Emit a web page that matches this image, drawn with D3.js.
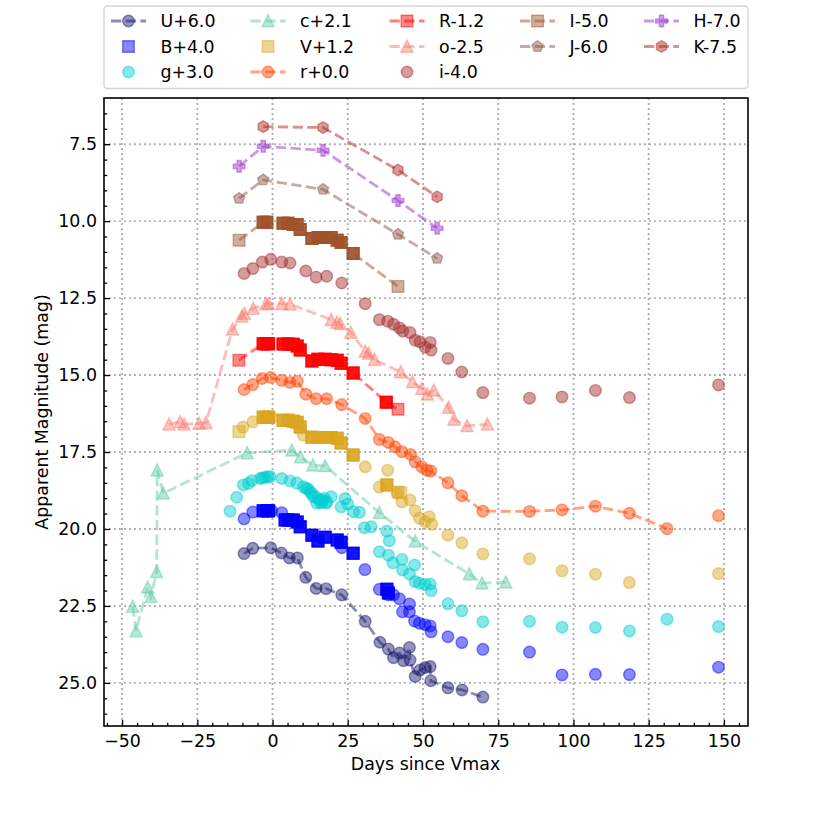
<!DOCTYPE html>
<html>
<head>
<meta charset="utf-8">
<script src="https://cdn.jsdelivr.net/npm/d3@7"></script>
<style>
  html, body { margin: 0; background: #fff; }
  text { font-family: "DejaVu Sans", sans-serif; fill: #000; }
</style>
</head>
<body>
<div id="chart"></div>
<script>
// [day, mag] pairs
const uMain = [[-9.46,20.8],[-6.56,20.63],[-0.58,20.61],[2.94,20.78],[5.6,20.94],[8.26,20.94],[11.05,21.57],[14.5,21.93],[17.8,21.94],[23,22.14],[30.8,23],[35.7,23.68],[38.5,23.9],[40.2,24.18],[42.2,24.03],[43.5,24.28],[45.5,23.85],[45.7,24.26],[47.4,24.79],[49,24.58],[50.7,24.5],[52.4,24.47],[52.6,24.93],[58.3,25.16],[63,25.23],[69.9,25.46]];
const bSquares = [[-3.1,19.41],[-1.9,19.41],[-1.3,19.41],[4.2,19.71],[5.2,19.71],[6.9,19.71],[8.2,19.77],[9.2,19.93],[13.1,20.2],[15.1,20.39],[17.5,20.27],[21.5,20.36],[22.8,20.43],[26.8,20.79],[38,21.96],[38.5,22.08]];
const bCircles = [[-9.46,19.67],[-6.56,19.45],[-0.25,19.41],[3.07,19.47],[23,20.61],[30.7,21.32],[35.5,21.96],[38.5,22.14],[40.2,22.14],[42.2,22.27],[43.2,22.69],[45.5,22.44],[45.5,22.69],[47.2,22.99],[48.8,23.06],[50.7,23.11],[52.4,23.15],[52.7,23.34],[58.3,23.5],[62.9,23.69],[69.9,23.91],[85.4,24],[96.2,24.74],[107.3,24.72],[118.6,24.73],[148.2,24.49]];
const gCircles = [[-14.1,19.42],[-11.9,18.97],[-9.7,18.57],[-8,18.52],[-6.9,18.43],[-4.1,18.36],[-3.3,18.34],[-2.5,18.32],[-1.5,18.3],[-0.8,18.3],[3.07,18.36],[5.8,18.44],[8.1,18.51],[10.3,18.63],[11.2,18.68],[11.8,18.7],[12.5,18.8],[13.1,18.85],[13.6,18.96],[14.3,18.95],[14.7,19.16],[15.7,19.05],[15.9,19.15],[16.4,19.12],[16.8,19.06],[17.2,19],[17.9,19.16],[18,19.12],[19.5,18.95],[22.8,19.28],[24.1,19.01],[25,19.19],[26.9,19.44],[28.9,19.46],[30.5,19.96],[32.8,19.93],[38,20.07],[38.8,20.38],[35.5,20.74],[38.5,20.85],[40,21.1],[43,20.99],[47.2,21.17],[43.2,21.33],[45.5,21.46],[47.4,21.71],[48.8,21.76],[50.7,21.8],[52.4,21.79],[52.7,22],[58.3,22.43],[62.9,22.66],[69.9,23.01],[85.4,23],[96.2,23.19],[107.3,23.2],[118.6,23.31],[131.1,22.93],[148.2,23.17]];
const cMain = [[-46.45,22.52],[-45.35,23.31],[-41.5,21.89],[-40.4,22.2],[-38.5,21.39],[-38.3,18.09],[-36.3,18.84],[-8.4,17.53],[6.4,17.44],[9.3,17.66],[13.4,17.93],[17.5,17.95],[35.5,19.47],[47.4,20.4],[65.4,21.46],[69.6,21.76],[77.5,21.73]];
const vSquares = [[-11.2,16.84],[-3.1,16.37],[-1.9,16.37],[-1.3,16.37],[3.5,16.47],[5.2,16.47],[6.9,16.5],[8.2,16.53],[9.2,16.69],[13.1,17.02],[15.1,17.03],[17.5,17.03],[19.5,17.03],[21.5,17.05],[22.8,17.21],[26.8,17.6],[38,18.57],[41.7,18.8],[42.6,18.82]];
const vCircles = [[-9.8,16.69],[-6.5,16.52],[-0.25,16.37],[10.2,16.95],[30.8,17.98],[38.3,18.09],[35.5,18.64],[41.4,18.84],[43,19.12],[45.7,19.06],[47.4,19.41],[48.8,19.65],[50.7,19.76],[52.1,19.6],[52.9,19.85],[58.3,20.2],[62.9,20.45],[69.9,20.81],[85.4,20.97],[96.2,21.36],[107.3,21.47],[118.6,21.74],[148.2,21.45]];
const rMain = [[-9.46,15.47],[-6.56,15.31],[-3.4,15.11],[-0.6,15.08],[3.07,15.17],[5.8,15.24],[8.2,15.2],[11.05,15.62],[14.5,15.77],[18,15.77],[23,15.96],[30.8,16.41],[35.5,17.09],[38.5,17.19],[40.7,17.33],[43,17.49],[45.9,17.58],[47.4,17.82],[49.6,17.98],[51.3,18.09],[52.6,18.12],[58.3,18.5],[62.9,18.92],[69.9,19.42],[85.4,19.43],[96.2,19.38],[107.3,19.26],[118.6,19.49],[131.1,19.99]];
const rLate = [[148.2,19.57]];
const bigRMain = [[-11.2,14.52],[-3.1,13.98],[-1.9,13.98],[-1.3,13.98],[3.5,13.99],[5.2,13.99],[6.9,14],[8.2,14.06],[9.2,14.19],[13.1,14.54],[15.1,14.49],[17.5,14.49],[19.5,14.5],[21.5,14.52],[22.8,14.62],[26.8,14.93],[37.8,15.88],[41.7,16.11]];
const oMain = [[-34.4,16.6],[-30.7,16.52],[-29.4,16.6],[-24.4,16.57],[-22.1,16.55],[-13.3,13.51],[-10.2,13.09],[-9.4,13],[-6.4,12.84],[-2.2,12.68],[-1.4,12.68],[3.07,12.68],[5.8,12.7],[19.5,13.2],[21.4,13.29],[22.5,13.33],[26,13.62],[30.8,14.23],[31.9,14.3],[33.9,14.5],[42.6,14.9],[46.5,15.22],[49.6,15.44],[51.5,15.62],[53.6,15.49],[58.5,16.05],[60.3,16.44],[64.6,16.65],[71.4,16.6]];
const iCircles = [[-9.46,11.7],[-6.56,11.54],[-3.4,11.33],[-0.6,11.24],[3.07,11.33],[5.8,11.36],[11.05,11.62],[14.5,11.82],[18,11.79],[23,12.01],[30.8,12.68],[35.5,13.2],[38.3,13.25],[40.2,13.35],[42.2,13.47],[43.3,13.57],[45.7,13.62],[47.4,13.87],[49,13.92],[50.7,14.09],[52.4,13.94],[52.7,14.19],[58.3,14.46],[62.9,14.9],[69.9,15.57],[85.4,15.75],[96.2,15.71],[107.3,15.5],[118.6,15.73],[148.2,15.32]];
const bigIMain = [[-11.1,10.62],[-3.1,10.04],[-1.9,10.04],[3.5,10.07],[5.2,10.07],[6.9,10.11],[8.2,10.11],[9.2,10.27],[13.1,10.56],[15.1,10.53],[17.5,10.53],[19.5,10.53],[21.5,10.62],[22.8,10.69],[26.8,11.05],[41.7,12.12]];
const jMain = [[-11.1,9.26],[-3.1,8.66],[16.8,8.97],[41.7,10.43],[54.7,11.21]];
const hMain = [[-11.1,8.22],[-3.1,7.57],[16.8,7.7],[41.7,9.33],[54.7,10.23]];
const kMain = [[-3.1,6.93],[16.8,6.96],[41.7,8.34],[54.7,9.21]];

const xTicks = [-50, -25, 0, 25, 50, 75, 100, 125, 150];
const yTicks = [7.5, 10, 12.5, 15, 17.5, 20, 22.5, 25];
const xDomain = [-56, 158];
const yDomain = [6, 26.4];

// legend order, column by column
const bands = [
  { label: 'U+6.0', color: '#191970', sets: [{ pts: uMain, sym: 'circle', line: true }], legend: 'circle', legendLine: true },
  { label: 'B+4.0', color: '#0000ff', sets: [{ pts: bCircles, sym: 'circle' }, { pts: bSquares, sym: 'square', stacked: true }], legend: 'square' },
  { label: 'g+3.0', color: '#00ced1', sets: [{ pts: gCircles, sym: 'circle' }], legend: 'circle' },
  { label: 'c+2.1', color: '#66cdaa', sets: [{ pts: cMain, sym: 'triangle', line: true }], legend: 'triangle', legendLine: true },
  { label: 'V+1.2', color: '#daa520', sets: [{ pts: vCircles, sym: 'circle' }, { pts: vSquares, sym: 'square', stacked: true }], legend: 'square' },
  { label: 'r+0.0', color: '#ff4500', sets: [{ pts: rMain, sym: 'circle', line: true }, { pts: rLate, sym: 'circle' }], legend: 'circle', legendLine: true },
  { label: 'R-1.2', color: '#ff0000', sets: [{ pts: bigRMain, sym: 'square', line: true, stacked: true }], legend: 'square', legendLine: true },
  { label: 'o-2.5', color: '#fa8072', sets: [{ pts: oMain, sym: 'triangle', line: true }], legend: 'triangle', legendLine: true },
  { label: 'i-4.0', color: '#a52a2a', sets: [{ pts: iCircles, sym: 'circle' }], legend: 'circle' },
  { label: 'I-5.0', color: '#a0522d', sets: [{ pts: bigIMain, sym: 'square', line: true, stacked: true }], legend: 'square', legendLine: true },
  { label: 'J-6.0', color: '#8c564b', sets: [{ pts: jMain, sym: 'pentagon', line: true }], legend: 'pentagon', legendLine: true },
  { label: 'H-7.0', color: '#9932cc', sets: [{ pts: hMain, sym: 'plus', line: true }], legend: 'plus', legendLine: true },
  { label: 'K-7.5', color: '#b22222', sets: [{ pts: kMain, sym: 'hexagon', line: true }], legend: 'hexagon', legendLine: true }
];

const width = 831;
const height = 816;
const marginLeft = 104;
const marginRight = 83;
const marginTop = 98;
const marginBottom = 90;
const markerSize = 5.8;
const markerAlpha = 0.47;
const fontSize = '17.4px';

const svg = d3.select('#chart').append('svg')
  .attr('width', width)
  .attr('height', height)
  .style('display', 'block');

const xScale = d3.scaleLinear().domain(xDomain).range([marginLeft, width - marginRight]);
const yScale = d3.scaleLinear().domain(yDomain).range([marginTop, height - marginBottom]);

// grid
const grid = svg.append('g')
  .attr('fill', 'none')
  .attr('stroke', '#b0b0b0')
  .attr('stroke-width', 1.9)
  .attr('stroke-dasharray', '1.9,3.1');
grid.selectAll('.gx').data(xTicks).join('line')
  .attr('x1', d => xScale(d)).attr('x2', d => xScale(d))
  .attr('y1', marginTop).attr('y2', height - marginBottom);
grid.selectAll('.gy').data(yTicks).join('line')
  .attr('y1', d => yScale(d)).attr('y2', d => yScale(d))
  .attr('x1', marginLeft).attr('x2', width - marginRight);

// marker paths, centred on 0,0
const polygon = (n, r, rot) => {
  const p = d3.range(n).map(i => {
    const a = rot + i * 2 * Math.PI / n;
    return [r * Math.cos(a), r * Math.sin(a)];
  });
  return 'M' + p.join('L') + 'Z';
};
const markerPath = (sym, r) => {
  if (sym === 'circle') return d3.arc()({ innerRadius: 0, outerRadius: r, startAngle: 0, endAngle: 2 * Math.PI });
  if (sym === 'square') return `M${-r},${-r}H${r}V${r}H${-r}Z`;
  if (sym === 'triangle') return `M0,${-r * 1.1}L${r * 1.05},${r}H${-r * 1.05}Z`;
  if (sym === 'pentagon') return polygon(5, r, -Math.PI / 2);
  if (sym === 'hexagon') return polygon(6, r, -Math.PI / 2);
  // plus
  const a = r, b = r * 0.36;
  return `M${-b},${-a}H${b}V${-b}H${a}V${b}H${b}V${a}H${-b}V${b}H${-a}V${-b}H${-b}Z`;
};

const drawMarker = (sel, sym, color, r) => {
  sel.attr('d', markerPath(sym, r))
    .attr('fill', color)
    .attr('fill-opacity', markerAlpha)
    .attr('stroke', color)
    .attr('stroke-opacity', markerAlpha)
    .attr('stroke-width', 1.4);
};

const linePath = d3.line().x(d => xScale(d[0])).y(d => yScale(d[1]));

// the squares between these days are repeat measurements, so they print almost solid
const stackedRange = [-5, 40];
const stackLayers = d3.range(3);

// data
bands.forEach((band) => {
  const g = svg.append('g').attr('class', 'band');
  band.sets.forEach((set) => {
    if (set.line) {
      g.append('path')
        .attr('d', linePath(set.pts))
        .attr('fill', 'none')
        .attr('stroke', band.color)
        .attr('stroke-opacity', 0.5)
        .attr('stroke-width', 2.8)
        .attr('stroke-dasharray', '10.3,4.4');
    }
    g.selectAll(null).data(set.pts).join('path')
      .call(drawMarker, set.sym, band.color, markerSize)
      .attr('transform', d => `translate(${xScale(d[0])},${yScale(d[1])})`);
    if (set.stacked) {
      const dense = set.pts.filter(d => d[0] > stackedRange[0] && d[0] < stackedRange[1]);
      stackLayers.forEach(() => {
        g.selectAll(null).data(dense).join('path')
          .call(drawMarker, set.sym, band.color, markerSize)
          .attr('transform', d => `translate(${xScale(d[0])},${yScale(d[1])})`);
      });
    }
  });
});

// frame
svg.append('rect')
  .attr('x', marginLeft).attr('y', marginTop)
  .attr('width', width - marginLeft - marginRight)
  .attr('height', height - marginTop - marginBottom)
  .attr('fill', 'none')
  .attr('stroke', '#000')
  .attr('stroke-width', 1.6);

// axes
const xAxis = d3.axisBottom(xScale).tickValues(xTicks).tickSizeInner(-6).tickSizeOuter(0).tickPadding(8.7)
  .tickFormat(d => String(d).replace('-', '\u2212'));
const xMinor = d3.axisBottom(xScale).tickValues(d3.range(-55, 156, 5).filter(d => d % 25 !== 0)).tickSizeInner(-3.2).tickSizeOuter(0).tickFormat('');
const yAxis = d3.axisLeft(yScale).tickValues(yTicks).tickSizeInner(-6).tickSizeOuter(0).tickPadding(7).tickFormat(d3.format('.1f'));
const yMinor = d3.axisLeft(yScale).tickValues(d3.range(6.5, 26.1, 0.5).filter(d => d % 2.5 !== 0)).tickSizeInner(-3.2).tickSizeOuter(0).tickFormat('');

[xAxis, xMinor].forEach((ax) => {
  const g = svg.append('g').attr('transform', `translate(0,${height - marginBottom})`).call(ax);
  g.select('.domain').remove();
  g.selectAll('line').attr('stroke-width', 1.3);
  g.selectAll('text').style('font-size', fontSize).attr('dy', '0.71em');
});
[yAxis, yMinor].forEach((ax) => {
  const g = svg.append('g').attr('transform', `translate(${marginLeft},0)`).call(ax);
  g.select('.domain').remove();
  g.selectAll('line').attr('stroke-width', 1.3);
  g.selectAll('text').style('font-size', fontSize);
});

svg.append('text')
  .attr('x', 425.5).attr('y', 770)
  .attr('text-anchor', 'middle')
  .style('font-size', fontSize)
  .text('Days since Vmax');
svg.append('text')
  .attr('transform', 'translate(47.7,412) rotate(-90)')
  .attr('text-anchor', 'middle')
  .style('font-size', fontSize)
  .text('Apparent Magnitude (mag)');

// legend
const legend = svg.append('g');
legend.append('rect')
  .attr('x', 104).attr('y', 6)
  .attr('width', 644).attr('height', 82.5)
  .attr('rx', 3.5)
  .attr('fill', '#fff')
  .attr('stroke', '#d6d6d6')
  .attr('stroke-width', 1.4);

const colHandle = [128.5, 268, 407, 537.5, 661.5];
const rowY = [21, 46.5, 72];
const colRows = [3, 3, 3, 2, 2];
let k = 0;
colRows.forEach((rows, c) => {
  d3.range(rows).forEach((r) => {
    const band = bands[k++];
    const cx = colHandle[c];
    const cy = rowY[r];
    if (band.legendLine) {
      legend.append('line')
        .attr('x1', cx - 17.5).attr('x2', cx + 17.5)
        .attr('y1', cy).attr('y2', cy)
        .attr('stroke', band.color)
        .attr('stroke-opacity', 0.5)
        .attr('stroke-width', 2.8)
        .attr('stroke-dasharray', '10.3,4.4');
    }
    legend.append('path')
      .call(drawMarker, band.legend, band.color, markerSize)
      .attr('transform', `translate(${cx},${cy})`);
    legend.append('text')
      .attr('x', cx + 32).attr('y', cy + 6.2)
      .style('font-size', fontSize)
      .text(band.label);
  });
});
</script>
</body>
</html>
